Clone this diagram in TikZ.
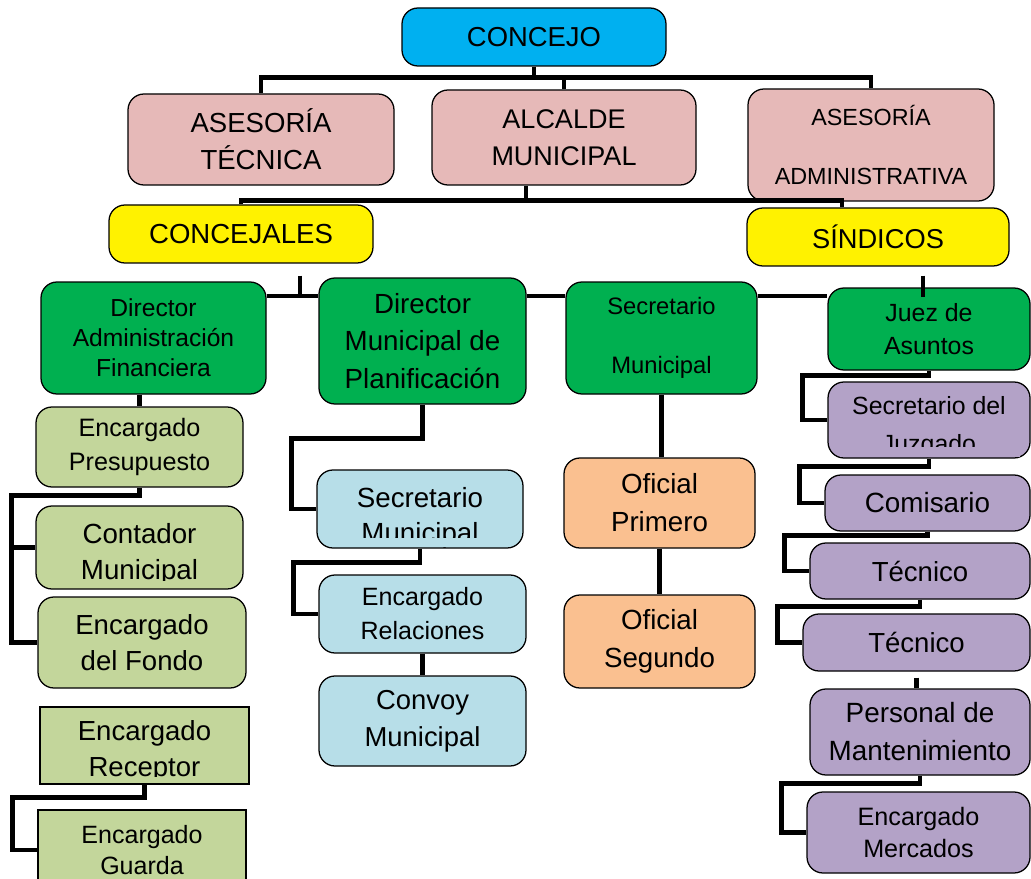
\documentclass[tikz,border=0pt]{standalone}
\usepackage{fontspec}
\setmainfont{Liberation Sans}

\definecolor{cblue}{RGB}{0,176,240}
\definecolor{cpink}{RGB}{230,185,184}
\definecolor{cgreen}{RGB}{0,176,80}
\definecolor{clgreen}{RGB}{195,214,155}
\definecolor{clblue}{RGB}{183,222,232}
\definecolor{corange}{RGB}{250,192,144}
\definecolor{cpurple}{RGB}{179,162,199}
\newcommand{\setfs}[2]{\fontsize{#1}{#2}\selectfont}

\begin{document}
\begin{tikzpicture}[x=0.025cm, y=-0.025cm,
        box/.style={draw, line width=0.9pt, rounded corners=0.4cm, align=center, inner sep=0pt},
        sqbox/.style={draw, line width=0.9pt, align=center, inner sep=0pt},
        sz/.style 2 args={minimum width=#1*\pxu, minimum height=#2*\pxu},
        conn/.style={line width=3.5pt}]
        % one unit is one pixel of the 1031 x 879 page, y runs downwards
        \def\pxu{0.025cm}
        \fill[white] (0,0) rectangle (1031,879);
        \useasboundingbox (0,0) rectangle (1031,879);

        % Concejo, asesorias and alcalde
        \node[box, fill=cblue, sz={264}{58}, font=\setfs{19.5}{26}] (concejo) at (534,37) {CONCEJO};
        \node[box, fill=cpink, sz={266}{91}, font=\setfs{19.6}{26.3}] (tecnica) at (261,139.5) {ASESORÍA\\TÉCNICA};
        \node[box, fill=cpink, sz={264}{95}, font=\setfs{19.2}{26}] (alcalde) at (564,137.5) {ALCALDE\\MUNICIPAL};
        \node[box, fill=cpink, sz={246}{112}, font=\setfs{16.6}{42}] (adminas) at (871,145) {ASESORÍA\\ADMINISTRATIVA};
        \node[box, fill=yellow, sz={264}{58}, font=\setfs{19.6}{26}] (concejales) at (241,234) {CONCEJALES};
        \node[box, fill=yellow, sz={262}{58}, font=\setfs{19.4}{26}] (sindicos) at (878,237) {SÍNDICOS};

        % Directores
        \node[box, fill=cgreen, sz={225}{112}, font=\setfs{17.5}{21.3}] (dirfin) at (153.5,338) {Director\\Administración\\Financiera};
        \node[box, fill=cgreen, sz={207}{126}, font=\setfs{19.7}{26.7}] (dirplan) at (422.5,341) {Director\\Municipal de\\Planificación};
        \node[box, fill=cgreen, sz={191}{112}, font=\setfs{16.9}{42}] (secmun) at (661.5,338) {Secretario\\Municipal};
        \node[box, fill=cgreen, sz={202}{82}, font=\setfs{17.7}{23.5}] (juez) at (929,329) {Juez de\\Asuntos};

        % Administracion financiera
        \node[box, fill=clgreen, sz={207}{80}, font=\setfs{17.9}{23.5}] (presup) at (139.5,447) {Encargado\\Presupuesto};
        \node[box, fill=clgreen, sz={207}{83}, font=\setfs{19.7}{26.3}] (contador) at (139.5,547.5) {\rule{0pt}{24pt}Contador\\Municipal};
        \node[box, fill=clgreen, sz={208}{91}, font=\setfs{19.6}{26}] (fondo) at (142,642.5) {Encargado\\del Fondo};
        \node[sqbox, fill=clgreen, sz={209}{77}, font=\setfs{19.6}{25}] (receptor) at (144.5,745.5) {\rule{0pt}{22.6pt}Encargado\\Receptor};
        \node[sqbox, fill=clgreen, sz={208}{80}, font=\setfs{17.8}{22.5}] (guarda) at (142,850) {Encargado\\Guarda};

        % Planificacion
        \node[box, fill=clblue, sz={206}{78}, font=\setfs{19.7}{24.9}] (secblue) at (420,509) {\rule{0pt}{26.2pt}Secretario\\Municipal};
        \node[box, fill=clblue, sz={207}{78}, font=\setfs{17.8}{24.2}] (relac) at (422.5,614) {Encargado\\Relaciones};
        \node[box, fill=clblue, sz={207}{90}, font=\setfs{19.5}{26}] (convoy) at (422.5,721) {Convoy\\Municipal};

        % Secretaria
        \node[box, fill=corange, sz={191}{90}, font=\setfs{19.7}{27}] (ofi1) at (659.5,503) {Oficial\\Primero};
        \node[box, fill=corange, sz={191}{93}, font=\setfs{19.7}{27}] (ofi2) at (659.5,641.5) {Oficial\\Segundo};

        % Juzgado
        \node[box, fill=cpurple, sz={202}{76}, font=\setfs{17.7}{27}] (secjuz) at (929,420) {\rule{0pt}{22.2pt}Secretario del\\Juzgado};
        \node[box, fill=cpurple, sz={205}{56}, font=\setfs{19.8}{26}] (comis) at (927.5,503) {Comisario};
        \node[box, fill=cpurple, sz={220}{56}, font=\setfs{19.6}{26}] (tec1) at (920,571) {Técnico};
        \node[box, fill=cpurple, sz={227}{57}, font=\setfs{19.6}{26}] (tec2) at (916.5,642.5) {Técnico};
        \node[box, fill=cpurple, sz={220}{86}, font=\setfs{19.8}{27}] (personal) at (920,732) {Personal de\\Mantenimiento};
        \node[box, fill=cpurple, sz={223}{81}, font=\setfs{17.9}{23.2}] (mercados) at (918.5,832.5) {Encargado\\Mercados};

        % lower part of some texts is cut off by their boxes
        \fill[clgreen] (50,580.5) rectangle (230,587.5);
        \fill[clgreen] (50,776.5) rectangle (240,783.3);
        \fill[clblue] (330,538) rectangle (510,547.3);
        \fill[cpurple] (840,447) rectangle (1020,457.3);

        % top buses
        \draw[conn] (tecnica.north) -- ++(0,-16) -| (adminas.north);
        \draw[conn] (concejo.south) -- ++(0,12);
        \draw[conn] (alcalde.north) -- ++(0,-12);
        \draw[conn] ([xshift=-0.95cm]alcalde.south) -- ++(0,16);
        \draw[conn] (concejales.north) -- ++(0,-4) -| ([xshift=-0.9cm]sindicos.north);

        % bus of the directores
        \coordinate (gbus) at (0,296);
        \draw[conn] ([xshift=1.475cm,yshift=-0.3cm]concejales.south) -- ++(0,21);
        \draw[conn] ([xshift=1.125cm,yshift=-0.225cm]sindicos.south) -- ++(0,21);
        \foreach \a/\b in {dirfin/dirplan, dirplan/secmun, secmun/juez}
            \draw[conn] (\a.east |- gbus) -- (\b.west |- gbus);

        % elbows down the columns
        \foreach \a/\b/\d in {receptor/guarda/13, dirplan/secblue/34, secblue/relac/14,
                juez/secjuz/5, secjuz/comis/8, comis/tec1/4, tec1/tec2/7, personal/mercados/8}
            \draw[conn] (\a.south) -- ++(0,\d) -| ([xshift=-0.625cm]\b.west) -- (\b.west);
        \draw[conn] (dirfin.south -| presup.north) -- (presup.north);
        \draw[conn] (presup.south) -- ++(0,8) -| ([xshift=-0.6cm]contador.west) -- (contador.west);
        \draw[conn] ([xshift=-0.6cm]contador.west) |- (fondo.west);

        % straight stems
        \draw[conn] (relac.south) -- (convoy.north);
        \draw[conn] (secmun.south) -- (secmun.south |- ofi1.north);
        \draw[conn] (ofi1.south) -- (ofi2.north);
        \draw[conn] ([yshift=-0.15cm]tec2.south) -- (tec2.south |- personal.north);
    \end{tikzpicture}
\end{document}
